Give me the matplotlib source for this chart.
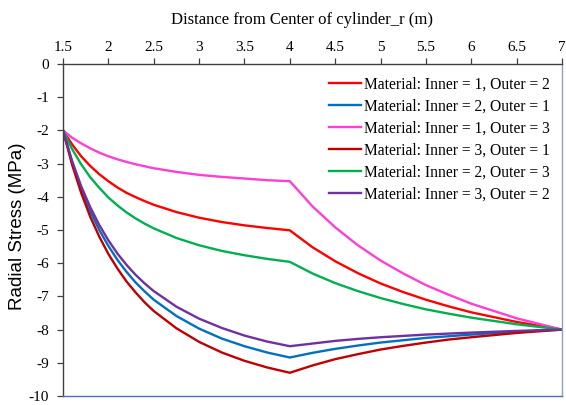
import matplotlib
matplotlib.use("Agg")
import matplotlib.pyplot as plt

# Radial position (m): inner cylinder 1.5-4, outer cylinder 4-7
r_vals = [1.5, 1.6, 1.7, 1.8, 1.9, 2.0, 2.1, 2.2, 2.3, 2.4, 2.5, 2.75, 3.0, 3.25, 3.5, 3.75, 4.0,
          4.25, 4.5, 4.75, 5.0, 5.25, 5.5, 5.75, 6.0, 6.5, 7.0]

# Radial stress (MPa) for each material combination
in1_out2 = [-2, -2.42, -2.78, -3.07, -3.32, -3.53, -3.72, -3.88, -4.01, -4.13, -4.24, -4.46, -4.63,
            -4.76, -4.86, -4.94, -5.01,
            -5.52, -5.94, -6.30, -6.61, -6.87, -7.10, -7.30, -7.48, -7.77, -8]
in2_out1 = [-2, -2.96, -3.76, -4.44, -5.00, -5.48, -5.90, -6.26, -6.58, -6.85, -7.10, -7.59, -7.97,
            -8.27, -8.50, -8.69, -8.84,
            -8.70, -8.58, -8.48, -8.39, -8.32, -8.25, -8.20, -8.15, -8.06, -8]
in1_out3 = [-2, -2.22, -2.39, -2.54, -2.67, -2.78, -2.87, -2.95, -3.02, -3.08, -3.14, -3.25, -3.34,
            -3.40, -3.45, -3.50, -3.53,
            -4.29, -4.92, -5.46, -5.92, -6.31, -6.66, -6.95, -7.22, -7.66, -8]
in3_out1 = [-2, -3.03, -3.88, -4.60, -5.20, -5.72, -6.16, -6.55, -6.88, -7.18, -7.44, -7.96, -8.37,
            -8.69, -8.94, -9.14, -9.30,
            -9.08, -8.89, -8.74, -8.60, -8.49, -8.39, -8.30, -8.23, -8.10, -8]
in2_out3 = [-2, -2.56, -3.02, -3.41, -3.73, -4.02, -4.26, -4.47, -4.65, -4.81, -4.95, -5.24, -5.46,
            -5.63, -5.76, -5.87, -5.96,
            -6.31, -6.60, -6.84, -7.05, -7.23, -7.39, -7.52, -7.64, -7.84, -8]
in3_out2 = [-2, -2.92, -3.68, -4.31, -4.85, -5.31, -5.71, -6.05, -6.35, -6.61, -6.84, -7.31, -7.67,
            -7.95, -8.18, -8.36, -8.50,
            -8.42, -8.34, -8.28, -8.23, -8.19, -8.15, -8.12, -8.09, -8.04, -8]

series_labels = ["Material: Inner = 1, Outer = 2",
                 "Material: Inner = 2, Outer = 1",
                 "Material: Inner = 1, Outer = 3",
                 "Material: Inner = 3, Outer = 1",
                 "Material: Inner = 2, Outer = 3",
                 "Material: Inner = 3, Outer = 2"]
series_values = [in1_out2, in2_out1, in1_out3, in3_out1, in2_out3, in3_out2]
series_colors = ["#FF0000", "#0070C0", "#FF3FD2", "#C00000", "#00B050", "#7030A0"]

x_ticks = [1.5, 2, 2.5, 3, 3.5, 4, 4.5, 5, 5.5, 6, 6.5, 7]
x_ticklabels = ["1.5", "2", "2.5", "3", "3.5", "4", "4.5", "5", "5.5", "6", "6.5", "7"]
y_ticks = list(range(-10, 1))

serif = ["Liberation Serif", "DejaVu Serif"]
sans = ["Liberation Sans", "DejaVu Sans"]

fig = plt.figure(figsize=(5.66, 4.05), dpi=100)
ax = fig.add_axes([0.1113, 0.0222, 0.993 - 0.1113, 0.842 - 0.0222])

for vals, lab, col in zip(series_values, series_labels, series_colors):
    ax.plot(r_vals, vals, color=col, lw=1.7, label=lab)

ax.set_xlim(1.5, 7)
ax.set_ylim(-10, 0)
ax.xaxis.tick_top()
ax.xaxis.set_label_position("top")
ax.set_xticks(x_ticks)
ax.set_xticklabels(x_ticklabels, fontfamily=serif, fontsize=11)
ax.set_yticks(y_ticks)
ax.set_yticklabels([str(v) for v in y_ticks], fontfamily=serif, fontsize=11)
ax.tick_params(axis="both", direction="out", length=4, width=0.9, color="#404040")
ax.tick_params(axis="x", pad=3)
ax.tick_params(axis="y", pad=6)

ax.set_xlabel("Distance from Center of cylinder_r (m)", fontfamily=serif, fontsize=12)
ax.xaxis.label.set_va("center")
ax.xaxis.set_label_coords(0.479, 1.1325)
ax.set_ylabel("Radial Stress (MPa)", fontfamily=sans, fontsize=13.5)
ax.yaxis.label.set_va("center")
ax.yaxis.set_label_coords(-0.092, 0.512)

ax.spines["top"].set_color("#404040")
ax.spines["left"].set_color("#404040")
ax.spines["bottom"].set_color("#4A72B8")
ax.spines["right"].set_color("#8FA0BE")
for s in ax.spines.values():
    s.set_linewidth(1.0)

leg = ax.legend(loc="upper right", bbox_to_anchor=(1.0, 1.0), frameon=False,
                prop={"family": serif, "size": 11.2}, handlelength=2.05,
                handletextpad=0.15, labelspacing=0.39, borderaxespad=0.4)

fig.savefig("out.png", dpi=100)
